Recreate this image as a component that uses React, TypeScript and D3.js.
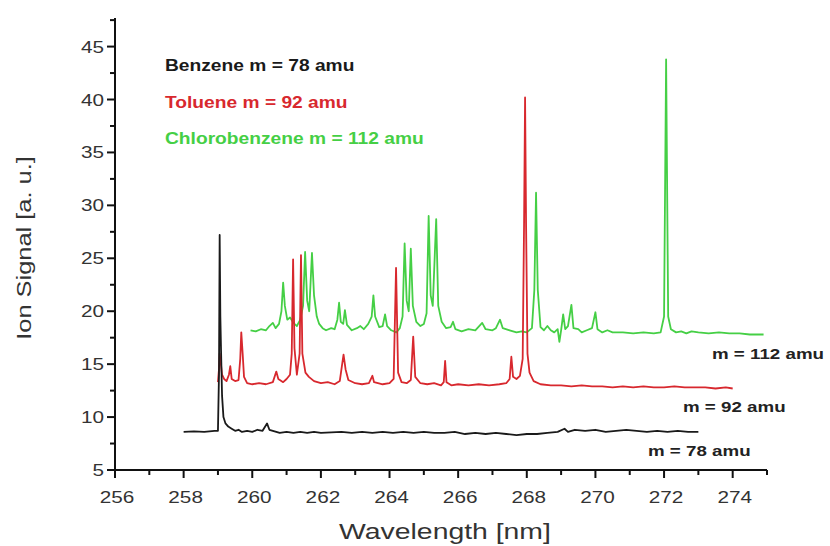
import React from "react";
import * as d3 from "d3";

// spectra: [wavelength nm, ion signal a.u.]
const benzene: [number, number][] = [
  [258.0, 8.6], [258.3, 8.65], [258.6, 8.6], [258.9, 8.7], [259.0, 8.7],
  [259.03, 14], [259.05, 27.2], [259.07, 19.5], [259.09, 16.3], [259.12, 12],
  [259.16, 10], [259.22, 9.4], [259.3, 9.1], [259.4, 8.9], [259.5, 8.7],
  [259.6, 8.8], [259.7, 8.6], [259.85, 8.7], [260.0, 8.6], [260.15, 8.8],
  [260.3, 8.7], [260.43, 9.4], [260.5, 8.8], [260.6, 8.7], [260.8, 8.5],
  [261.0, 8.6], [261.2, 8.5], [261.4, 8.6], [261.6, 8.5], [261.8, 8.6],
  [262.0, 8.5], [262.3, 8.55], [262.6, 8.6], [262.9, 8.5], [263.2, 8.6],
  [263.5, 8.5], [263.8, 8.6], [264.1, 8.5], [264.4, 8.6], [264.7, 8.5],
  [265.0, 8.6], [265.3, 8.5], [265.6, 8.5], [265.9, 8.6], [266.2, 8.4],
  [266.5, 8.5], [266.8, 8.4], [267.1, 8.5], [267.4, 8.4], [267.7, 8.3],
  [268.0, 8.4], [268.3, 8.4], [268.6, 8.5], [268.9, 8.6], [269.1, 8.9],
  [269.2, 8.6], [269.4, 8.8], [269.7, 8.7], [270.0, 8.8], [270.3, 8.6],
  [270.6, 8.7], [270.9, 8.8], [271.2, 8.7], [271.5, 8.6], [271.8, 8.7],
  [272.1, 8.6], [272.4, 8.7], [272.7, 8.6], [273.0, 8.6],
];

const toluene: [number, number][] = [
  [259.0, 13.3], [259.03, 14.5], [259.05, 16.0], [259.08, 15.2], [259.12, 14.0],
  [259.18, 13.6], [259.25, 13.4], [259.32, 14.0], [259.36, 14.8], [259.4, 13.6],
  [259.5, 13.4], [259.6, 13.5], [259.65, 15.5], [259.68, 18.0], [259.72, 16.0],
  [259.76, 13.8], [259.85, 13.2], [260.0, 13.1], [260.2, 13.2], [260.4, 13.1],
  [260.6, 13.3], [260.7, 14.3], [260.76, 13.6], [260.9, 13.3], [261.0, 13.6],
  [261.1, 14.0], [261.15, 16], [261.19, 24.9], [261.23, 16.5], [261.3, 14.0],
  [261.38, 16], [261.42, 25.3], [261.46, 16], [261.55, 14.2], [261.65, 13.8],
  [261.8, 13.4], [262.0, 13.2], [262.2, 13.3], [262.4, 13.1], [262.55, 13.4],
  [262.62, 15], [262.66, 15.9], [262.72, 14.5], [262.8, 13.5], [263.0, 13.2],
  [263.2, 13.1], [263.4, 13.2], [263.5, 13.9], [263.55, 13.3], [263.8, 13.1],
  [264.0, 13.2], [264.12, 13.6], [264.19, 24.1], [264.25, 14.2], [264.35, 13.3],
  [264.5, 13.2], [264.62, 13.5], [264.69, 17.6], [264.75, 13.8], [264.9, 13.2],
  [265.1, 13.1], [265.3, 13.2], [265.5, 13.0], [265.58, 13.3], [265.62, 15.3],
  [265.66, 13.3], [265.8, 13.0], [266.0, 13.1], [266.3, 13.0], [266.6, 13.1],
  [266.9, 13.0], [267.2, 13.1], [267.4, 13.2], [267.5, 13.6], [267.55, 15.7],
  [267.6, 13.8], [267.7, 13.6], [267.8, 13.9], [267.88, 15.5], [267.92, 28],
  [267.95, 40.2], [267.98, 28], [268.02, 16], [268.08, 14.2], [268.2, 13.4],
  [268.4, 13.1], [268.7, 13.0], [269.0, 13.0], [269.3, 12.9], [269.6, 13.0],
  [269.9, 12.9], [270.2, 12.9], [270.5, 12.8], [270.8, 12.9], [271.1, 12.8],
  [271.4, 12.9], [271.7, 12.8], [272.0, 12.8], [272.3, 12.9], [272.6, 12.8],
  [272.9, 12.8], [273.2, 12.8], [273.5, 12.7], [273.8, 12.8], [274.0, 12.7],
];

const chlorobenzene: [number, number][] = [
  [259.95, 18.2], [260.1, 18.1], [260.25, 18.3], [260.4, 18.2], [260.5, 18.6],
  [260.6, 18.9], [260.68, 18.4], [260.78, 18.8], [260.85, 20], [260.9, 22.7],
  [260.95, 20.5], [261.02, 19.2], [261.1, 19.4], [261.2, 18.9], [261.3, 18.6],
  [261.4, 19.2], [261.48, 20.5], [261.54, 25.6], [261.6, 21], [261.66, 20],
  [261.74, 25.5], [261.8, 21.5], [261.88, 19.5], [261.95, 18.8], [262.05, 18.4],
  [262.15, 18.2], [262.3, 18.4], [262.4, 18.3], [262.48, 19.2], [262.53, 20.8],
  [262.58, 19.0], [262.65, 18.8], [262.7, 20.1], [262.76, 18.7], [262.9, 18.2],
  [263.05, 18.4], [263.15, 18.6], [263.25, 18.3], [263.38, 18.8], [263.48, 19.5],
  [263.53, 21.5], [263.58, 19.5], [263.7, 18.5], [263.8, 18.6], [263.87, 19.7],
  [263.93, 18.6], [264.05, 18.2], [264.2, 18.0], [264.3, 18.4], [264.38, 19.5],
  [264.44, 26.4], [264.5, 21], [264.56, 20], [264.62, 25.9], [264.68, 20.5],
  [264.78, 19], [264.9, 18.6], [265.0, 18.8], [265.08, 19.8], [265.14, 29.0],
  [265.2, 21.5], [265.26, 20.5], [265.36, 28.7], [265.42, 20.5], [265.52, 19],
  [265.65, 18.4], [265.78, 18.5], [265.85, 19.0], [265.92, 18.3], [266.1, 18.1],
  [266.3, 18.3], [266.5, 18.2], [266.7, 18.9], [266.8, 18.3], [267.0, 18.2],
  [267.1, 18.4], [267.22, 19.2], [267.3, 18.4], [267.5, 18.2], [267.7, 18.0],
  [267.85, 18.1], [268.0, 18.0], [268.15, 18.4], [268.22, 22], [268.27, 31.2],
  [268.32, 22], [268.4, 18.5], [268.5, 18.2], [268.6, 18.6], [268.7, 18.2],
  [268.8, 18.0], [268.9, 18.3], [268.95, 17.1], [269.0, 18.2], [269.06, 19.7],
  [269.12, 18.3], [269.2, 18.6], [269.3, 20.6], [269.36, 18.4], [269.5, 18.3],
  [269.6, 18.0], [269.75, 18.2], [269.9, 18.4], [270.0, 19.9], [270.06, 18.3],
  [270.2, 18.0], [270.35, 18.2], [270.5, 18.0], [270.8, 18.0], [271.1, 17.9],
  [271.4, 18.0], [271.7, 17.9], [271.9, 18.0], [272.0, 19.5], [272.06, 43.8],
  [272.12, 19.5], [272.2, 18.3], [272.35, 18.0], [272.5, 18.1], [272.65, 17.9],
  [272.8, 18.1], [273.0, 18.0], [273.3, 17.9], [273.6, 18.0], [273.9, 17.9],
  [274.2, 17.9], [274.5, 17.8], [274.9, 17.8],
];

const xTicks = [256, 258, 260, 262, 264, 266, 268, 270, 272, 274];
const xMinor = [257, 259, 261, 263, 265, 267, 269, 271, 273, 275];
const yTicks = [5, 10, 15, 20, 25, 30, 35, 40, 45];
const yMinor = [7.5, 12.5, 17.5, 22.5, 27.5, 32.5, 37.5, 42.5, 47.5];

const legend = [
  { text: "Benzene m = 78 amu", color: "#1a1a1a" },
  { text: "Toluene m = 92 amu", color: "#d8282e" },
  { text: "Chlorobenzene m = 112 amu", color: "#45cf45" },
];
const massLabels = [
  { text: "m = 112 amu", x: 712, y: 359 },
  { text: "m = 92 amu", x: 683, y: 412 },
  { text: "m = 78 amu", x: 648, y: 456 },
];

const W = 830;
const H = 546;
const FONT = "'Liberation Sans', Arial, sans-serif";

export default function App() {
  const x = d3.scaleLinear().domain([256, 275]).range([115, 767]);
  const y = d3.scaleLinear().domain([5, 47.7]).range([470, 18]);
  const line = d3
    .line<[number, number]>()
    .x((d) => x(d[0]))
    .y((d) => y(d[1]));

  // text in the source is drawn wider than it is tall
  const wide = (tx: number, ty: number, s: number) =>
    `translate(${tx},${ty}) scale(${s},1)`;

  return (
    <svg
      width={W}
      height={H}
      style={{ position: "absolute", left: 0, top: 0, background: "#fff" }}
      fontFamily={FONT}
    >
      {/* spectra, green under red under black */}
      <path d={line(chlorobenzene) || ""} fill="none" stroke="#45cf45" strokeWidth={1.8} strokeLinejoin="round" />
      <path d={line(toluene) || ""} fill="none" stroke="#d8282e" strokeWidth={1.8} strokeLinejoin="round" />
      <path d={line(benzene) || ""} fill="none" stroke="#1a1a1a" strokeWidth={1.8} strokeLinejoin="round" />

      {/* axes */}
      <line x1={x(256)} x2={x(256)} y1={y(47.7)} y2={y(5)} stroke="#111" strokeWidth={2} />
      <line x1={x(256)} x2={x(275)} y1={y(5)} y2={y(5)} stroke="#111" strokeWidth={2} />

      {yTicks.map((t) => (
        <g key={"y" + t}>
          <line x1={x(256) - 8} x2={x(256)} y1={y(t)} y2={y(t)} stroke="#111" strokeWidth={2} />
          <text
            transform={wide(104, y(t) + 6, 1.22)}
            textAnchor="end"
            fontSize={17}
            fill="#333"
          >
            {t}
          </text>
        </g>
      ))}
      {yMinor.map((t) => (
        <line key={"ym" + t} x1={x(256) - 5} x2={x(256)} y1={y(t)} y2={y(t)} stroke="#111" strokeWidth={2} />
      ))}

      {xTicks.map((t) => (
        <g key={"x" + t}>
          <line x1={x(t)} x2={x(t)} y1={y(5)} y2={y(5) + 8} stroke="#111" strokeWidth={2} />
          <text
            transform={wide(x(t) + 2, 503, 1.22)}
            textAnchor="middle"
            fontSize={17}
            fill="#333"
          >
            {t}
          </text>
        </g>
      ))}
      {xMinor.map((t) => (
        <line key={"xm" + t} x1={x(t)} x2={x(t)} y1={y(5)} y2={y(5) + 5} stroke="#111" strokeWidth={2} />
      ))}

      {/* axis titles */}
      <text transform={wide(445, 539, 1.29)} textAnchor="middle" fontSize={22} fill="#333">
        Wavelength [nm]
      </text>
      <text
        transform={`translate(31,248) rotate(-90) scale(1.27,1)`}
        textAnchor="middle"
        fontSize={20}
        fill="#333"
      >
        Ion Signal [a. u.]
      </text>

      {/* legend */}
      {legend.map((l, i) => (
        <text
          key={l.text}
          transform={wide(165, 71 + i * 36.5, 1.13)}
          fontSize={17}
          fontWeight="bold"
          fill={l.color}
        >
          {l.text}
        </text>
      ))}

      {massLabels.map((m) => (
        <text
          key={m.text}
          transform={wide(m.x, m.y, 1.25)}
          fontSize={15}
          fontWeight="bold"
          fill="#222"
        >
          {m.text}
        </text>
      ))}
    </svg>
  );
}
